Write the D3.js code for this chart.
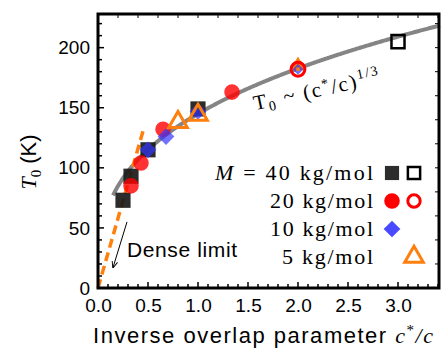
<!DOCTYPE html>
<html>
<head>
<meta charset="utf-8">
<script src="https://cdn.jsdelivr.net/npm/d3@7"></script>
<style>
  body { margin: 0; background: #fff; }
  svg text { fill: #000; }
</style>
</head>
<body>
<svg id="chart" width="442" height="351"></svg>
<script>
// data
var m40X = [0.25, 0.33, 0.5, 1.0];
var m40Y = [73, 93, 115, 149];
var m40OpenX = [3.0];
var m40OpenY = [205];
var m20X = [0.33, 0.43, 0.65, 1.34];
var m20Y = [85, 104, 132, 163];
var m20OpenX = [2.0];
var m20OpenY = [182];
var m10X = [0.5, 0.68, 1.0, 2.0];
var m10Y = [115, 126, 147, 182];
var m5X = [0.8, 1.0, 2.0];
var m5Y = [138, 144, 185];
var fitA = 145;          // T0 = A (c*/c)^(1/3)
var fitRange = [0.15, 3.42];
var denseSlope = 290;    // dense limit T0 = slope * c*/c
var denseRange = [0, 0.45];
var xTicks = [0, 0.5, 1.0, 1.5, 2.0, 2.5, 3.0];
var yTicks = [0, 50, 100, 150, 200];
var legendLabels = ["40 kg/mol", "20 kg/mol", "10 kg/mol", "5 kg/mol"];

var svg = d3.select('#chart');
var margin = {top: 14, right: 3, bottom: 63, left: 98};
var width = 442 - margin.left - margin.right;
var height = 351 - margin.top - margin.bottom;

var x = d3.scaleLinear().domain([0, 3.41]).range([0, width]);
var y = d3.scaleLinear().domain([0, 228]).range([height, 0]);

var chart = svg.append('g')
    .attr('transform', 'translate(' + margin.left + ',' + margin.top + ')');

var sans = 'Liberation Sans, Arial, sans-serif';
var serif = 'Liberation Serif, Times New Roman, serif';

// ticks inside the frame (bottom/left dense, top/right sparse)
function isMajor(v, step) { return Math.abs(v / step - Math.round(v / step)) < 1e-6; }
var tickG = chart.append('g').attr('stroke', '#000').attr('stroke-width', 1.5);
d3.range(0, 3.41, 0.1).forEach(function(v) {
  var len = isMajor(v, 0.5) ? 6 : 4;
  tickG.append('line').attr('x1', x(v)).attr('x2', x(v)).attr('y1', height).attr('y2', height - len);
});
d3.range(0.2, 3.41, 0.2).forEach(function(v) {
  tickG.append('line').attr('x1', x(v)).attr('x2', x(v)).attr('y1', 0).attr('y2', 4).attr('stroke-width', 1);
});
d3.range(0, 228, 10).forEach(function(v) {
  var len = isMajor(v, 50) ? 6 : 4;
  tickG.append('line').attr('y1', y(v)).attr('y2', y(v)).attr('x1', 0).attr('x2', len);
});
d3.range(20, 228, 20).forEach(function(v) {
  tickG.append('line').attr('y1', y(v)).attr('y2', y(v)).attr('x1', width).attr('x2', width - 4).attr('stroke-width', 1);
});

// tick labels via d3 axes
var xAxis = d3.axisBottom(x).tickValues(xTicks).tickFormat(d3.format('.1f')).tickSize(0).tickPadding(11);
var yAxis = d3.axisLeft(y).tickValues(yTicks).tickFormat(d3.format('d')).tickSize(0).tickPadding(8);
chart.append('g').attr('transform', 'translate(0,' + height + ')').call(xAxis)
  .call(function(g) { g.select('.domain').remove(); })
  .selectAll('text').style('font-family', sans).style('font-size', '19px');
chart.append('g').call(yAxis)
  .call(function(g) { g.select('.domain').remove(); })
  .selectAll('text').style('font-family', sans).style('font-size', '19px');

// fit curve
var fitPts = d3.range(fitRange[0], fitRange[1] + 0.001, 0.01).map(function(v) { return [v, fitA * Math.cbrt(v)]; });
chart.append('path')
  .attr('d', d3.line().x(function(d) { return x(d[0]); }).y(function(d) { return y(d[1]); })(fitPts))
  .attr('fill', 'none').attr('stroke', '#858585').attr('stroke-width', 4);

// dense limit dashed line
chart.append('line')
  .attr('x1', x(denseRange[0])).attr('y1', y(denseSlope * denseRange[0]))
  .attr('x2', x(denseRange[1])).attr('y2', y(denseSlope * denseRange[1]))
  .attr('stroke', '#ff7f0e').attr('stroke-width', 3.5).attr('stroke-dasharray', '9,5');

// arrow + text
svg.append('defs').append('marker')
  .attr('id', 'arr').attr('viewBox', '0 0 10 10').attr('refX', 9).attr('refY', 5)
  .attr('markerWidth', 7).attr('markerHeight', 7).attr('orient', 'auto')
  .append('path').attr('d', 'M0,1 L10,5 L0,9').attr('fill', 'none').attr('stroke', '#000').attr('stroke-width', 1.3);
chart.append('line')
  .attr('x1', x(0.29)).attr('y1', y(55)).attr('x2', x(0.15)).attr('y2', y(17))
  .attr('stroke', '#000').attr('stroke-width', 1).attr('marker-end', 'url(#arr)');
chart.append('text').attr('x', x(0.29)).attr('y', y(26))
  .attr('textLength', 110).attr('lengthAdjust', 'spacing')
  .style('font-family', sans).style('font-size', '21px').text('Dense limit');

// marker helpers
var sym = function(type, size) { return d3.symbol().type(type).size(size)(); };
function drawPts(xs, ys, type, size, fill, stroke, sw, op, rot) {
  chart.append('g').selectAll('path').data(xs).enter().append('path')
    .attr('d', sym(type, size))
    .attr('transform', function(d, i) { return 'translate(' + x(d) + ',' + y(ys[i]) + ') rotate(' + (rot || 0) + ')'; })
    .attr('fill', fill).attr('fill-opacity', op)
    .attr('stroke', stroke).attr('stroke-width', sw);
}

drawPts(m40X, m40Y, d3.symbolSquare, 230, '#1a1a1a', 'none', 0, 0.92);
drawPts(m40OpenX, m40OpenY, d3.symbolSquare, 170, 'none', '#000', 2.5, 1);
drawPts(m20X, m20Y, d3.symbolCircle, 190, '#ff0000', 'none', 0, 0.8);
drawPts([m5X[2]], [m5Y[2]], d3.symbolTriangle, 110, '#ff7f0e', 'none', 0, 1);
drawPts(m10X.slice(0, 3), m10Y.slice(0, 3), d3.symbolSquare, 140, '#3535ff', 'none', 0, 0.7, 45);
drawPts([m10X[3]], [m10Y[3]], d3.symbolSquare, 60, '#3535ff', 'none', 0, 0.7, 45);
drawPts([m5X[2]], [m5Y[2] - 3], d3.symbolSquare, 12, '#ff7f0e', 'none', 0, 1);
drawPts(m20OpenX, m20OpenY, d3.symbolCircle, 150, 'none', '#ff0000', 3, 1);
drawPts(m5X.slice(0, 2), m5Y.slice(0, 2), d3.symbolTriangle, 150, 'none', '#ff7f0e', 3, 1);

// fit annotation
var ann = chart.append('text')
  .attr('transform', 'translate(' + x(1.57) + ',' + y(148) + ') rotate(-12)')
  .attr('textLength', 128).attr('lengthAdjust', 'spacing')
  .style('font-family', serif).style('font-size', '21px');
ann.append('tspan').text('T');
ann.append('tspan').attr('dy', 4).style('font-size', '14px').text('0');
ann.append('tspan').attr('dy', -4).text(' ~ (c');
ann.append('tspan').attr('dy', -7).style('font-size', '14px').text('*');
ann.append('tspan').attr('dy', 7).text('/c)');
ann.append('tspan').attr('dy', -9).style('font-size', '14px').text('1/3');

// legend
var legY = [173, 201, 229, 257];
var legW = [158, 103, 103, 91];
var legText = chart.append('g').style('font-family', serif).style('font-size', '22px');
legendLabels.forEach(function(lab, i) {
  var t = legText.append('text').attr('x', 373 - margin.left - legW[i]).attr('y', legY[i] - margin.top + 7)
    .attr('textLength', legW[i]).attr('lengthAdjust', 'spacing');
  if (i === 0) {
    t.append('tspan').style('font-style', 'italic').text('M');
    t.append('tspan').text(' = ' + lab);
  } else {
    t.text(lab);
  }
});
var lx1 = 392 - margin.left, lx2 = 414 - margin.left;
function legMark(lx, ly, type, size, fill, stroke, sw, op, rot) {
  chart.append('path').attr('d', sym(type, size))
    .attr('transform', 'translate(' + lx + ',' + (ly - margin.top) + ') rotate(' + (rot || 0) + ')')
    .attr('fill', fill).attr('fill-opacity', op).attr('stroke', stroke).attr('stroke-width', sw);
}
legMark(lx1, legY[0], d3.symbolSquare, 200, '#1a1a1a', 'none', 0, 0.92);
legMark(lx2, legY[0], d3.symbolSquare, 150, 'none', '#000', 2.5, 1);
legMark(lx1, legY[1], d3.symbolCircle, 190, '#ff0000', 'none', 0, 1);
legMark(lx2, legY[1], d3.symbolCircle, 120, 'none', '#ff0000', 3, 1);
legMark(lx1, legY[2], d3.symbolSquare, 140, '#3535ff', 'none', 0, 0.9, 45);
legMark(lx2, legY[3], d3.symbolTriangle, 150, 'none', '#ff7f0e', 3, 1);

// frame
chart.append('rect').attr('width', width).attr('height', height)
  .attr('fill', 'none').attr('stroke', '#000').attr('stroke-width', 3);

// axis labels
var yl = svg.append('text')
  .attr('transform', 'translate(36,162) rotate(-90)')
  .attr('text-anchor', 'middle').style('font-size', '22px');
yl.append('tspan').style('font-family', serif).style('font-style', 'italic').text('T');
yl.append('tspan').style('font-family', serif).style('font-size', '15px').attr('dy', 5).text('0');
yl.append('tspan').style('font-family', sans).attr('dy', -5).text(' (K)');

var xl = svg.append('text').attr('x', 93).attr('y', 343)
  .attr('textLength', 340).attr('lengthAdjust', 'spacing')
  .style('font-size', '22px');
xl.append('tspan').style('font-family', sans).text('Inverse overlap parameter ');
xl.append('tspan').style('font-family', serif).style('font-style', 'italic').text('c');
xl.append('tspan').style('font-family', serif).style('font-size', '15px').attr('dy', -8).text('*');
xl.append('tspan').style('font-family', serif).style('font-style', 'italic').attr('dy', 8).text('/c');
</script>
</body>
</html>
